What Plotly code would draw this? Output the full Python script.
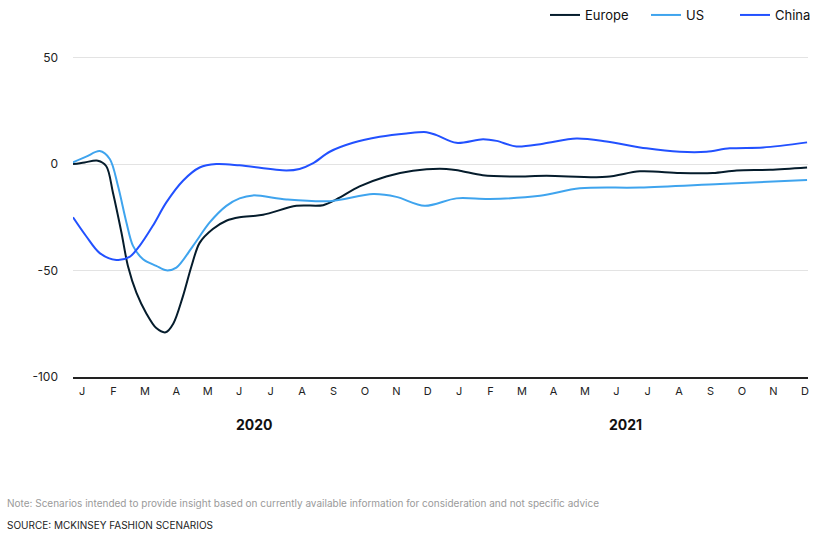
import plotly.graph_objects as go

# Month-index positions (0 = Jan 2020, 23 = Dec 2021)
month_labels = ["J", "F", "M", "A", "M", "J", "J", "A", "S", "O", "N", "D"] * 2
years = ["2020", "2021"]
year_centers = [5.5, 17.3]
y_ticks = [-100, -50, 0, 50]
y_tick_text = ["-100", "-50", "0", "50"]

europe_x = [-0.29, 0.08, 0.50, 0.77, 0.98, 1.25, 1.46, 1.73, 2.04, 2.36, 2.66, 2.90,
            3.20, 3.48, 3.74, 4.16, 4.59, 5.01, 5.76, 6.82, 7.67, 8.09, 8.83, 9.68,
            10.53, 11.59, 12.02, 12.75, 13.71, 14.78, 16.69, 17.75, 19.02, 20.07,
            20.83, 21.89, 23.07]
europe_y = [0, 0.8, 1.6, -1, -13.3, -32, -48, -60.5, -70, -77, -79, -75,
            -62.5, -48, -37, -30.5, -26.6, -25, -23.8, -19.6, -19.3, -16.6, -10.5, -5.8,
            -3.1, -2.3, -3.1, -5.2, -5.8, -5.5, -6.0, -3.4, -4.2, -4.2,
            -3.0, -2.7, -1.6]

us_x = [-0.29, 0.13, 0.56, 0.88, 1.14, 1.41, 1.62, 1.94, 2.36, 2.68, 3.00, 3.53,
        4.06, 4.59, 5.01, 5.44, 6.50, 7.88, 9.26, 10.00, 10.90, 11.91, 12.97, 14.57,
        15.84, 17.75, 20.30, 23.07]
us_y = [0.8, 3.5, 6.1, 2.4, -10.2, -27.4, -38.4, -44.7, -47.8, -49.9, -48.6, -38.4,
        -27.4, -19.6, -16.1, -14.7, -16.6, -17.4, -14.1, -15.4, -19.6, -16.1, -16.4, -14.9,
        -11.4, -11.0, -9.3, -7.5]

china_x = [-0.29, 0.13, 0.56, 1.09, 1.51, 1.83, 2.25, 2.68, 3.21, 3.74, 4.27, 5.01,
           6.50, 6.92, 7.34, 7.88, 8.62, 9.47, 10.32, 10.96, 11.28, 11.91, 12.76, 13.19,
           13.82, 14.67, 15.73, 16.69, 17.96, 19.02, 19.87, 20.61, 21.67, 23.07]
china_y = [-25, -33.9, -41.8, -45, -43.6, -38.4, -29, -18, -7.8, -1.6, 0, -0.6,
           -3, -2.3, 0.3, 5.8, 10, 12.8, 14.4, 15, 13.6, 10, 11.7, 10.9,
           8.3, 9.6, 12, 10.6, 7.4, 5.8, 5.8, 7.4, 7.8, 10.2]

FONT = "Inter, 'Open Sans', sans-serif"

fig = go.Figure()
for name, xs, ys, color, lw in [
    ("Europe", europe_x, europe_y, "#051c2c", 56),
    ("US", us_x, us_y, "#3fa4ee", 44),
    ("China", china_x, china_y, "#2251ff", 38),
]:
    fig.add_trace(go.Scatter(
        x=xs, y=ys, name=name, mode="lines",
        line=dict(color=color, width=2, shape="spline", smoothing=0.9),
        hoverinfo="skip", legendwidth=lw,
    ))

plot_top, plot_h = 47, 539 - 47 - 162
plot_left, plot_w = 73, 823 - 73 - 15

fig.update_layout(
    width=823, height=539,
    margin=dict(l=plot_left, r=15, t=plot_top, b=162),
    paper_bgcolor="white", plot_bgcolor="white",
    font=dict(family=FONT, color="#222222", size=12),
    showlegend=True,
    legend=dict(
        orientation="h", x=(545 - plot_left) / plot_w, xanchor="left",
        y=1.0, yref="container", yanchor="top",
        font=dict(size=13, color="#111111"),
        itemwidth=30, traceorder="normal",
    ),
)

fig.update_xaxes(
    range=[-0.29, 23.1],
    tickmode="array", tickvals=list(range(24)), ticktext=month_labels,
    showgrid=False, zeroline=False,
    showline=True, linecolor="#222222", linewidth=2,
    ticks="", tickfont=dict(size=11, color="#222222"),
    ticklabelstandoff=3,
)
fig.update_yaxes(
    range=[-100, 55],
    tickmode="array", tickvals=y_ticks, ticktext=y_tick_text,
    showgrid=True, gridcolor="#e3e3e3", gridwidth=1,
    zeroline=False, showline=False, ticks="",
    tickfont=dict(size=12, color="#222222"),
    ticklabelstandoff=14,
)

def py_to_paper(py):
    return (plot_top + plot_h - py) / plot_h

def px_to_paper(px):
    return (px - plot_left) / plot_w

for yr, xc in zip(years, year_centers):
    fig.add_annotation(
        x=xc, y=py_to_paper(424), xref="x", yref="paper", yanchor="middle",
        text=f"<b>{yr}</b>", showarrow=False,
        font=dict(size=14, color="#111111"),
    )

fig.add_annotation(
    x=px_to_paper(5), y=py_to_paper(503), xref="paper", yref="paper",
    xanchor="left", yanchor="middle",
    text="Note: Scenarios intended to provide insight based on currently available information for consideration and not specific advice",
    showarrow=False, font=dict(size=10, color="#9a9a9a"),
)
fig.add_annotation(
    x=px_to_paper(5), y=py_to_paper(525), xref="paper", yref="paper",
    xanchor="left", yanchor="middle",
    text="SOURCE: MCKINSEY FASHION SCENARIOS",
    showarrow=False, font=dict(size=10, color="#222222"),
)

fig.write_html("out.html")
